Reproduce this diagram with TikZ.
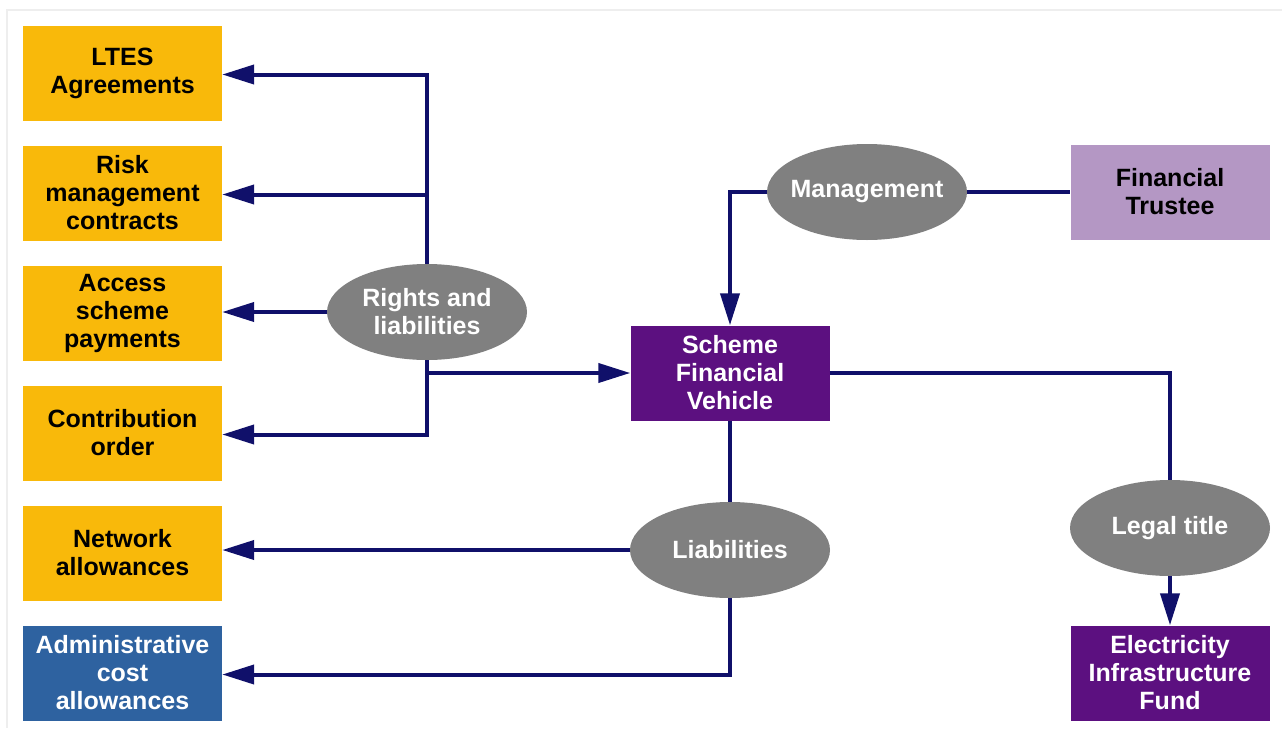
\documentclass[tikz,border=0pt]{standalone}
\usepackage{fontspec}
\setmainfont{Liberation Sans}
\usetikzlibrary{arrows.meta,shapes.geometric}

\definecolor{boxorange}{RGB}{249,185,10}
\definecolor{sfvpurple}{RGB}{92,16,128}
\definecolor{trusteelilac}{RGB}{180,151,196}
\definecolor{adminblue}{RGB}{46,98,160}
\definecolor{ovalgrey}{RGB}{128,128,128}
\definecolor{linknavy}{RGB}{16,16,106}
\definecolor{framegrey}{RGB}{238,238,238}

\tikzset{
  lbl/.style={font=\fontsize{25}{28}\selectfont\bfseries, align=center, inner sep=0pt},
  boxnode/.style={lbl, rectangle, minimum width=199pt, minimum height=95pt},
  orangebox/.style={boxnode, fill=boxorange, text=black},
  purplebox/.style={boxnode, fill=sfvpurple, text=white},
  oval/.style={lbl, ellipse, fill=ovalgrey, text=white, inner xsep=-12pt,
    minimum width=200pt, minimum height=96pt},
  link/.style={draw=linknavy, line width=4pt},
  arr/.style={link, -{Triangle[length=32pt,width=19pt]}}
}

\begin{document}
\begin{tikzpicture}[x=1pt,y=-1pt]
  \useasboundingbox (0,0) rectangle (1282,728);
  % faint page frame
  \draw[framegrey, line width=1.2pt] (7,728) -- (7,10) -- (1282,10);

  % left column
  \node[orangebox] (ltes)    at (122.5,73)  {LTES\\Agreements};
  \node[orangebox] (risk)    at (122.5,193) {Risk\\management\\contracts};
  \node[orangebox] (access)  at (122.5,313) {Access\\scheme\\payments};
  \node[orangebox] (contrib) at (122.5,433) {Contribution\\order};
  \node[orangebox] (network) at (122.5,553) {Network\\allowances};
  \node[boxnode, fill=adminblue, text=white] (admin) at (122.5,673) {Administrative\\cost\\allowances};

  % relationship ovals
  \node[oval] (rights) at (427,312) {Rights and\\liabilities};
  \node[oval] (mgmt)   at (867,192) {Management};
  \node[oval] (liab)   at (730,550) {Liabilities};
  \node[oval] (legal)  at (1170,528) {Legal title};

  % central and right entities
  \node[purplebox] (sfv) at (730,373) {Scheme\\Financial\\Vehicle};
  \node[boxnode, fill=trusteelilac, text=black] (trustee) at (1170,192) {Financial\\Trustee};
  \node[purplebox] (eif) at (1170,673) {Electricity\\Infrastructure\\Fund};

  % rights and liabilities branches
  \draw[arr] (rights.north) |- ([yshift=-1.5pt]ltes.east);
  \draw[arr] (rights.north) |- ([yshift=-1.5pt]risk.east);
  \draw[arr] (rights.west) -- (rights.west -| access.east);
  \draw[arr] (rights.south) |- ([yshift=-1.5pt]contrib.east);
  \draw[arr] (rights.south |- sfv.west) -- (sfv.west);

  % management
  \draw[link] (mgmt.east) -- (mgmt.east -| trustee.west);
  \draw[arr] (mgmt.west) -| (sfv.north);

  % legal title
  \draw[link] (sfv.east) -| (legal.north);
  \draw[arr] (legal.south) -- (eif.north);

  % liabilities
  \draw[link] (sfv.south) -- (liab.north);
  \draw[arr] (liab.west) -- (liab.west -| network.east);
  \draw[arr] (liab.south) |- ([yshift=-1.5pt]admin.east);
\end{tikzpicture}
\end{document}
